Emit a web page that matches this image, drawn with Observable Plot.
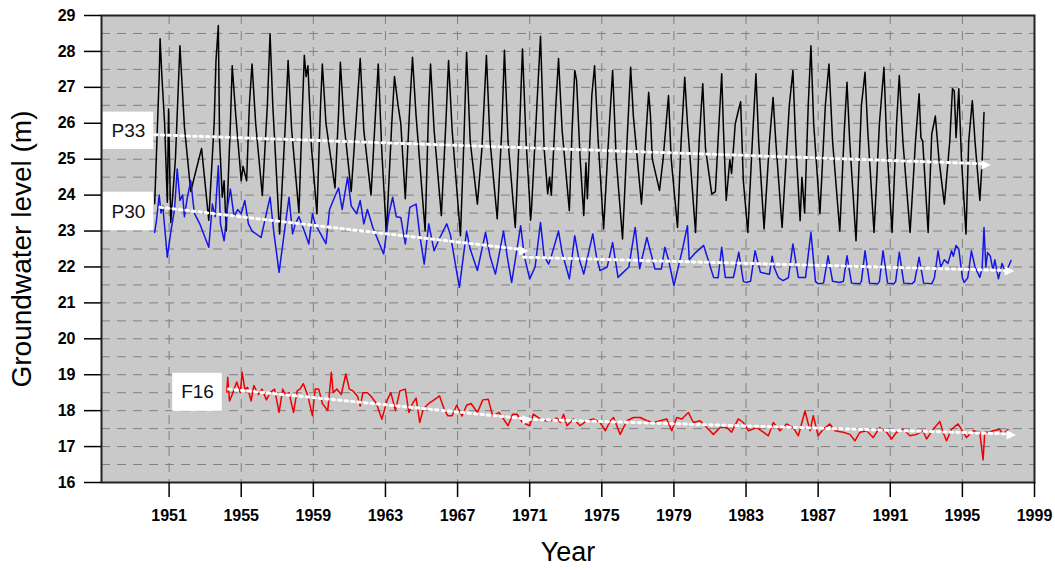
<!DOCTYPE html>
<html>
<head>
<meta charset="utf-8">
<script src="https://cdn.jsdelivr.net/npm/d3@7"></script>
<script src="https://cdn.jsdelivr.net/npm/@observablehq/plot@0.6"></script>
<style>
  html, body { margin: 0; padding: 0; background: #ffffff; }
  #chart { width: 1055px; height: 570px; }
</style>
</head>
<body>
<div id="chart"></div>
<script>
// ---------- data ----------
const xTicks = [1951, 1955, 1959, 1963, 1967, 1971, 1975, 1979, 1983, 1987, 1991, 1995, 1999];
const yTicks = [16, 17, 18, 19, 20, 21, 22, 23, 24, 25, 26, 27, 28, 29];

// P33 (black)
const p33Year = [1950.2,1950.45,1950.5,1950.6,1950.75,1950.9,1950.97,1951.09,1951.35,1951.6,1951.75,1951.85,1952.2,1952.8,1953.2,1953.5,1953.6,1953.73,1953.8,1953.95,1954.05,1954.17,1954.4,1954.5,1954.7,1955.0,1955.1,1955.3,1955.45,1955.6,1955.8,1956.17,1956.45,1956.6,1956.75,1957.13,1957.45,1957.6,1957.8,1958.2,1958.4,1958.5,1958.6,1958.7,1958.9,1959.2,1959.4,1959.5,1959.7,1960.2,1960.4,1960.5,1960.7,1961.1,1961.4,1961.6,1961.8,1962.2,1962.45,1962.6,1962.8,1963.05,1963.35,1963.5,1963.7,1963.85,1964.1,1964.35,1964.5,1964.7,1965.2,1965.4,1965.5,1965.7,1966.1,1966.35,1966.5,1966.7,1967.16,1967.35,1967.5,1967.7,1968.1,1968.35,1968.6,1968.8,1969.2,1969.45,1969.6,1969.8,1970.2,1970.45,1970.6,1970.8,1971.0,1971.05,1971.1,1971.4,1971.6,1971.8,1972.0,1972.1,1972.2,1972.45,1972.6,1972.8,1973.2,1973.35,1973.5,1973.6,1973.8,1974.0,1974.12,1974.2,1974.45,1974.6,1974.8,1975.1,1975.4,1975.6,1975.8,1976.15,1976.4,1976.6,1976.75,1977.2,1977.4,1977.6,1977.7,1977.8,1978.2,1978.4,1978.7,1978.85,1979.2,1979.4,1979.6,1979.75,1980.2,1980.4,1980.6,1980.75,1981.1,1981.3,1981.5,1981.65,1981.75,1981.9,1982.1,1982.2,1982.4,1982.55,1982.7,1982.85,1983.1,1983.35,1983.55,1983.7,1984.0,1984.3,1984.5,1984.65,1985.0,1985.4,1985.6,1985.75,1986.0,1986.1,1986.25,1986.45,1986.6,1986.75,1987.1,1987.4,1987.6,1987.8,1988.2,1988.45,1988.6,1988.75,1989.1,1989.4,1989.6,1989.75,1990.1,1990.4,1990.65,1990.8,1991.1,1991.35,1991.5,1991.7,1992.1,1992.4,1992.6,1992.7,1992.8,1993.1,1993.3,1993.5,1993.7,1994.0,1994.3,1994.45,1994.55,1994.65,1994.8,1994.95,1995.2,1995.35,1995.55,1995.7,1995.97,1996.1,1996.2];
const p33Level = [23.76,27.3,28.35,27.3,26.0,23.8,26.4,23.24,25.0,28.16,26.8,25.9,24.1,25.3,23.3,26.0,27.75,28.72,25.5,23.94,24.4,23.0,26.0,27.6,26.2,24.4,24.8,24.4,26.5,27.65,26.0,23.99,26.5,28.49,26.5,22.92,26.0,27.75,25.8,23.52,26.5,27.89,27.3,27.6,25.3,23.48,26.5,27.65,26.0,24.2,26.3,27.7,26.0,24.1,26.3,27.8,25.8,24.0,26.3,27.65,25.2,22.92,26.0,27.3,26.5,26.0,23.9,26.5,27.84,26.2,23.0,26.5,27.65,25.8,23.43,26.0,27.75,25.8,22.87,25.5,27.98,25.5,23.75,25.3,27.89,25.5,23.34,25.8,28.03,25.5,23.1,26.0,28.07,25.5,23.8,23.3,23.6,26.5,28.42,25.3,24.03,24.5,24.0,26.5,27.8,25.8,23.57,25.8,27.47,27.2,25.0,23.43,24.9,23.9,26.8,27.6,25.5,23.06,25.8,27.47,25.0,22.78,25.5,27.56,26.2,23.75,25.3,26.86,26.2,25.0,24.13,25.0,26.77,25.0,23.1,25.5,27.28,26.0,22.96,25.5,27.1,25.3,24.03,24.1,26.0,27.38,25.8,23.85,24.98,24.6,25.98,26.3,26.6,24.4,22.96,25.5,27.38,25.5,23.06,25.5,26.72,25.5,23.1,26.5,27.47,25.5,23.29,24.5,23.5,26.5,28.16,26.0,23.48,26.5,27.65,25.5,23.0,25.8,27.14,25.5,22.73,26.5,27.42,25.8,22.96,26.0,27.56,25.5,22.96,26.0,27.33,25.5,22.96,25.5,26.82,25.6,25.5,22.96,25.7,26.2,25.0,23.75,25.5,26.96,26.9,25.6,26.96,25.0,22.92,25.5,26.63,25.5,23.85,25.0,26.3];

// P30 (blue)
const p30Year = [1950.2,1950.3,1950.45,1950.55,1950.65,1950.9,1951.1,1951.3,1951.45,1951.6,1951.75,1951.85,1952.0,1952.2,1952.4,1952.7,1953.2,1953.4,1953.55,1953.73,1953.85,1954.05,1954.25,1954.4,1954.6,1954.8,1955.0,1955.2,1955.4,1955.6,1956.1,1956.4,1956.6,1956.8,1957.1,1957.4,1957.65,1957.85,1958.0,1958.2,1958.5,1958.75,1958.95,1959.1,1959.7,1959.9,1960.1,1960.4,1960.6,1960.9,1961.1,1961.4,1961.6,1961.8,1962.0,1962.3,1962.9,1963.2,1963.4,1963.6,1963.85,1964.1,1964.35,1964.7,1964.9,1965.15,1965.4,1965.7,1966.0,1966.4,1966.6,1967.1,1967.5,1967.7,1968.1,1968.55,1968.8,1969.1,1969.55,1969.75,1970.0,1970.5,1970.7,1971.0,1971.3,1971.6,1971.8,1972.05,1972.2,1972.6,1972.8,1973.2,1973.5,1973.7,1974.0,1974.5,1974.7,1974.9,1975.3,1975.6,1975.9,1976.5,1976.85,1977.1,1977.5,1977.95,1978.3,1978.5,1978.7,1979.0,1979.5,1979.75,1979.85,1980.2,1980.65,1981.2,1981.45,1981.65,1981.85,1982.3,1982.6,1982.85,1983.0,1983.25,1983.5,1983.8,1984.3,1984.45,1984.55,1984.8,1985.05,1985.35,1985.6,1985.9,1986.3,1986.6,1986.85,1987.0,1987.3,1987.55,1987.8,1988.2,1988.4,1988.6,1988.85,1989.3,1989.4,1989.6,1989.85,1990.3,1990.4,1990.6,1990.85,1991.2,1991.3,1991.5,1991.75,1992.2,1992.35,1992.6,1992.85,1993.3,1993.45,1993.65,1993.8,1994.0,1994.2,1994.4,1994.5,1994.65,1994.8,1995.0,1995.1,1995.3,1995.5,1995.7,1995.97,1996.1,1996.2,1996.3,1996.4,1996.55,1996.7,1996.8,1997.0,1997.2,1997.35,1997.55,1997.7];
const p30Level = [22.96,23.3,24.0,23.5,23.7,22.27,23.0,23.6,24.73,23.85,24.0,23.4,23.9,24.4,23.5,23.2,22.55,23.75,23.4,24.82,23.2,22.73,23.7,24.17,23.4,23.6,23.48,23.85,23.2,23.0,22.82,23.5,23.94,23.0,21.85,23.0,23.94,22.92,23.2,23.4,23.0,22.64,23.48,23.2,22.65,23.6,23.85,24.2,23.6,24.5,23.7,23.48,23.85,23.2,23.6,23.1,22.36,23.5,23.94,23.4,23.38,22.64,23.66,23.75,22.9,22.08,23.2,22.45,22.8,23.2,22.9,21.43,23.0,22.5,21.9,22.96,22.3,21.8,23.0,22.3,21.57,23.15,22.3,21.67,22.0,23.24,22.3,22.08,22.3,23.0,22.4,21.67,22.87,22.3,21.8,22.92,22.3,21.9,22.0,22.68,21.71,22.0,23.1,21.95,22.82,21.94,21.94,22.55,22.2,21.48,22.55,23.15,22.2,22.4,22.6,21.71,21.7,22.55,21.71,21.71,22.41,21.6,21.57,21.6,22.45,21.85,21.8,22.3,22.0,21.7,21.62,21.7,22.64,21.71,21.71,22.96,21.6,21.53,21.55,22.31,21.6,21.57,21.6,22.31,21.55,21.53,21.6,22.45,21.55,21.53,21.6,22.45,21.55,21.53,21.6,22.41,21.55,21.53,21.6,22.27,21.55,21.53,21.7,22.45,22.0,22.2,22.1,22.45,22.3,22.6,22.5,21.7,21.57,21.7,22.45,22.0,21.71,22.0,23.1,22.0,22.4,22.3,21.9,22.2,21.67,22.1,21.9,22.0,22.18];

// F16 (red)
const f16Year = [1954.2,1954.25,1954.35,1954.5,1954.75,1954.95,1955.05,1955.2,1955.35,1955.55,1955.7,1955.95,1956.15,1956.4,1956.6,1956.85,1957.1,1957.3,1957.45,1957.65,1957.9,1958.1,1958.25,1958.45,1958.7,1958.95,1959.1,1959.3,1959.5,1959.8,1960.0,1960.1,1960.3,1960.55,1960.8,1961.0,1961.2,1961.45,1961.6,1961.75,1962.0,1962.2,1962.5,1962.8,1963.1,1963.3,1963.55,1963.8,1964.1,1964.3,1964.5,1964.7,1964.9,1965.1,1965.4,1965.7,1966.0,1966.25,1966.45,1966.7,1966.95,1967.25,1967.5,1967.75,1968.1,1968.4,1968.7,1968.95,1969.3,1969.8,1970.05,1970.3,1970.6,1971.0,1971.2,1971.5,1971.85,1972.2,1972.5,1972.7,1972.88,1973.07,1973.43,1973.8,1974.17,1974.54,1974.9,1975.2,1975.47,1975.65,1976.02,1976.39,1976.76,1977.13,1977.5,1977.86,1978.24,1978.6,1978.88,1979.16,1979.44,1979.8,1980.08,1980.45,1980.82,1981.19,1981.56,1981.93,1982.2,1982.57,1982.85,1983.13,1983.6,1983.96,1984.24,1984.51,1984.88,1985.25,1985.62,1985.9,1986.27,1986.55,1986.73,1987.0,1987.28,1987.65,1987.93,1988.39,1988.76,1989.04,1989.32,1989.69,1990.05,1990.42,1990.8,1991.07,1991.35,1991.72,1992.09,1992.46,1992.82,1993.01,1993.38,1993.75,1993.93,1994.12,1994.4,1994.76,1995.04,1995.23,1995.6,1995.96,1996.15,1996.24,1996.52,1996.7,1997.07,1997.25,1997.53];
const f16Level = [18.51,18.93,18.27,18.45,18.8,18.5,19.07,18.6,18.65,18.27,18.7,18.45,18.6,18.3,18.5,18.6,17.95,18.6,18.45,18.5,17.95,18.55,18.6,18.75,18.4,17.86,18.6,18.6,18.2,18.0,19.07,18.5,18.6,18.45,19.02,18.6,18.55,18.4,18.13,18.5,18.5,18.4,18.2,17.76,18.3,18.5,18.0,18.55,18.6,17.95,18.2,18.35,17.67,18.05,18.2,18.3,18.41,18.05,17.86,17.86,18.15,17.85,18.15,18.2,17.95,18.3,18.32,17.85,17.95,17.58,17.9,17.9,17.67,17.58,17.9,17.8,17.72,17.72,17.8,17.67,17.9,17.58,17.77,17.58,17.72,17.77,17.67,17.44,17.72,17.81,17.34,17.72,17.81,17.81,17.72,17.67,17.72,17.77,17.44,17.81,17.77,17.95,17.67,17.72,17.53,17.34,17.53,17.53,17.4,17.77,17.67,17.44,17.53,17.4,17.3,17.67,17.44,17.63,17.53,17.3,17.99,17.44,17.86,17.3,17.48,17.63,17.44,17.4,17.34,17.16,17.4,17.44,17.25,17.53,17.4,17.21,17.4,17.48,17.3,17.34,17.44,17.21,17.48,17.7,17.4,17.16,17.48,17.63,17.4,17.25,17.44,17.4,16.63,17.4,17.4,17.44,17.48,17.35,17.48];

// trend lines (start year, start level, end year, end level)
const trendName   = ["P33", "P30", "P30", "F16", "F16"];
const trendStartX = [1950.2, 1950.5, 1970.66, 1954.3, 1970.9];
const trendStartY = [25.68, 23.66, 22.27, 18.6, 17.76];
const trendEndX   = [1996.3, 1970.66, 1997.6, 1970.86, 1997.7];
const trendEndY   = [24.87, 22.48, 21.9, 17.77, 17.35];

// series labels
const labelNames = ["P33", "P30", "F16"];
const labelX1 = [1947.33, 1947.33, 1951.2];
const labelX2 = [1950.15, 1950.15, 1953.95];
const labelY1 = [25.27, 23.01, 17.98];
const labelY2 = [26.31, 24.08, 19.04];

// ---------- tables ----------
const toRows = (xs, ys) => xs.map((x, i) => ({year: x, level: ys[i]}));
const p33 = toRows(p33Year, p33Level);
const p30 = toRows(p30Year, p30Level);
const f16 = toRows(f16Year, f16Level);
const trends = trendName.map((n, i) => ({name: n, x1: trendStartX[i], y1: trendStartY[i], x2: trendEndX[i], y2: trendEndY[i]}));
const labels = labelNames.map((n, i) => ({name: n, x1: labelX1[i], x2: labelX2[i], y1: labelY1[i], y2: labelY2[i]}));
const halfGrid = d3.range(16.5, 29, 0.5);

const FONT = "'Liberation Sans', Arial, Helvetica, sans-serif";

const chart = Plot.plot({
  width: 1055,
  height: 570,
  marginLeft: 101,
  marginRight: 21,
  marginTop: 15,
  marginBottom: 88,
  x: {domain: [1947.25, 1999]},
  y: {domain: [16, 29]},
  style: {fontFamily: FONT, background: "#ffffff", color: "#000"},
  marks: [
    Plot.frame({fill: "#c9c9c9", stroke: null}),
    Plot.ruleY(halfGrid, {stroke: "#808080", strokeDasharray: "9,7", strokeWidth: 1}),
    Plot.ruleX(xTicks.filter(d => d < 1999), {stroke: "#808080", strokeDasharray: "9,7", strokeWidth: 1}),
    Plot.line(p33, {x: "year", y: "level", stroke: "#000000", strokeWidth: 1.5}),
    Plot.line(p30, {x: "year", y: "level", stroke: "#1515e6", strokeWidth: 1.5}),
    Plot.line(f16, {x: "year", y: "level", stroke: "#f00000", strokeWidth: 1.5}),
    Plot.link(trends, {x1: "x1", y1: "y1", x2: "x2", y2: "y2", stroke: "#ffffff", strokeWidth: 3, strokeDasharray: "2.5,4", strokeLinecap: "round"}),
    Plot.text(trends, {x: "x2", y: "y2", text: () => "▶", fill: "#ffffff", fontSize: 12, fontFamily: "DejaVu Sans"}),
    Plot.rect(labels, {x1: "x1", x2: "x2", y1: "y1", y2: "y2", fill: "#ffffff"}),
    Plot.text(labels, {x: d => (d.x1 + d.x2) / 2, y: d => (d.y1 + d.y2) / 2, text: "name", fontSize: 19, fill: "#111"}),
    Plot.frame({stroke: "#222", strokeWidth: 2}),
    Plot.axisY({ticks: yTicks, tickSize: 17, tickPadding: 9, fontSize: 16, fontWeight: "bold", tickFormat: d => String(d), label: null, strokeWidth: 1.5}),
    Plot.axisX({ticks: xTicks, tickSize: 15, tickPadding: 12, fontSize: 16, fontWeight: "bold", tickFormat: d => String(d), label: null, strokeWidth: 1.5}),
    Plot.text(["Groundwater level (m)"], {text: d => d, frameAnchor: "left", textAnchor: "middle", dx: -79, rotate: -90, fontSize: 28}),
    Plot.text(["Year"], {text: d => d, frameAnchor: "bottom", textAnchor: "middle", dy: 78, fontSize: 27})
  ]
});
document.getElementById("chart").appendChild(chart);
</script>
</body>
</html>
